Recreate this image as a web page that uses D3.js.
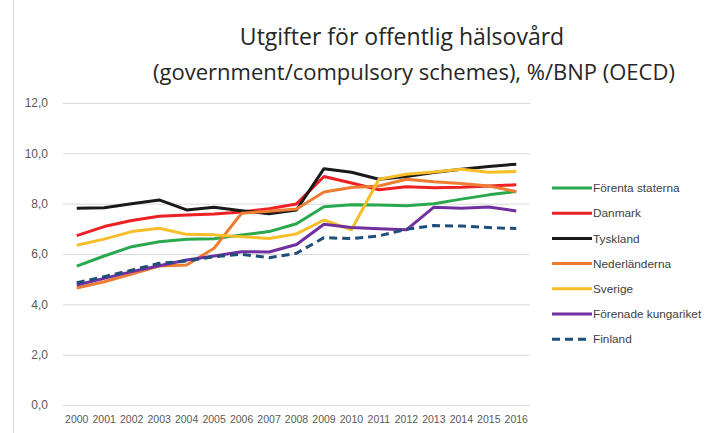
<!DOCTYPE html>
<html>
<head>
<meta charset="utf-8">
<script src="https://cdn.jsdelivr.net/npm/d3@7"></script>
<style>
  body { margin: 0; background: #fff; }
  .y-axis text, .x-axis text { fill: #595959; }
</style>
</head>
<body>
<div id="chart"></div>
<script>
// data
const years = ["2000","2001","2002","2003","2004","2005","2006","2007","2008","2009","2010","2011","2012","2013","2014","2015","2016"];
const yTicks = [0, 2, 4, 6, 8, 10, 12];

const forentaStaterna = [5.52, 5.92, 6.29, 6.49, 6.59, 6.61, 6.76, 6.89, 7.2, 7.88, 7.96, 7.95, 7.92, 8.0, 8.18, 8.35, 8.48];
const danmark = [6.73, 7.09, 7.33, 7.5, 7.55, 7.59, 7.67, 7.8, 7.99, 9.08, 8.82, 8.55, 8.67, 8.63, 8.65, 8.7, 8.75];
const tyskland = [7.82, 7.84, 8.0, 8.15, 7.75, 7.86, 7.72, 7.6, 7.75, 9.39, 9.25, 8.97, 9.08, 9.24, 9.37, 9.48, 9.57];
const nederlanderna = [4.65, 4.9, 5.2, 5.52, 5.56, 6.23, 7.62, 7.7, 7.79, 8.46, 8.64, 8.7, 8.97, 8.87, 8.8, 8.7, 8.48];
const sverige = [6.35, 6.59, 6.89, 7.02, 6.78, 6.76, 6.69, 6.62, 6.8, 7.35, 6.96, 8.97, 9.17, 9.26, 9.37, 9.25, 9.28];
const forenadeKungariket = [4.77, 5.03, 5.3, 5.53, 5.76, 5.92, 6.09, 6.08, 6.38, 7.18, 7.05, 7.0, 6.96, 7.86, 7.82, 7.87, 7.71];
const finland = [4.86, 5.1, 5.36, 5.63, 5.72, 5.89, 5.99, 5.85, 6.03, 6.65, 6.61, 6.72, 6.98, 7.13, 7.11, 7.05, 7.01];

const seriesNames = ["Förenta staterna", "Danmark", "Tyskland", "Nederländerna", "Sverige", "Förenade kungariket", "Finland"];
const seriesValues = [forentaStaterna, danmark, tyskland, nederlanderna, sverige, forenadeKungariket, finland];
const seriesColors = ["#2aa84e", "#ee2024", "#1a1a1a", "#ec7d33", "#f7be2a", "#7030a0", "#1f4e79"];

const series = seriesNames.map((name, i) => ({
  name: name,
  values: seriesValues[i],
  color: seriesColors[i],
  dashed: name === "Finland"
}));

const W = 705, H = 433;
const margin = { top: 103, right: 175, bottom: 28, left: 63 };
const width = W - margin.left - margin.right;
const height = H - margin.top - margin.bottom;

const svg = d3.select("#chart")
  .append("svg")
  .attr("width", W)
  .attr("height", H)
  .style("font-family", "'Liberation Sans', sans-serif");

// chart area border on the left
svg.append("line")
  .attr("x1", 13.5).attr("x2", 13.5)
  .attr("y1", 0).attr("y2", H)
  .attr("stroke", "#d9d9d9");

// title
const title = svg.append("text")
  .attr("text-anchor", "middle")
  .attr("fill", "#262626")
  .style("font-family", "'Open Sans', sans-serif");
title.append("tspan").attr("x", 402).attr("y", 45).style("font-size", "23px")
  .text("Utgifter för offentlig hälsovård");
title.append("tspan").attr("x", 414).attr("y", 80).style("font-size", "22px")
  .text("(government/compulsory schemes), %/BNP (OECD)");

const g = svg.append("g")
  .attr("transform", "translate(" + margin.left + "," + margin.top + ")");

const xScale = d3.scaleBand().domain(years).range([0, width]);
const yScale = d3.scaleLinear().domain([0, 12]).range([height, 0]);

// y axis + gridlines
const yAxis = d3.axisLeft(yScale)
  .tickValues(yTicks)
  .tickSize(-width)
  .tickPadding(15)
  .tickFormat((d) => d3.format(".1f")(d).replace(".", ","));
g.append("g")
  .attr("class", "y-axis")
  .call(yAxis)
  .call((a) => a.select(".domain").remove())
  .call((a) => a.selectAll("line").attr("stroke", "#d9d9d9"))
  .call((a) => a.selectAll("text").style("font-size", "12px"));

// x axis
const xAxis = d3.axisBottom(xScale).tickSize(0).tickPadding(11);
g.append("g")
  .attr("class", "x-axis")
  .attr("transform", "translate(0," + height + ")")
  .call(xAxis)
  .call((a) => a.select(".domain").remove())
  .call((a) => a.selectAll("text").style("font-size", "10.5px"));

// lines
const line = d3.line()
  .x((d, i) => xScale(years[i]) + xScale.bandwidth() / 2)
  .y((d) => yScale(d));

g.selectAll(".series")
  .data(series)
  .enter()
  .append("path")
  .attr("class", "series")
  .attr("d", (d) => line(d.values))
  .attr("fill", "none")
  .attr("stroke", (d) => d.color)
  .attr("stroke-width", 3)
  .attr("stroke-linejoin", "round")
  .attr("stroke-dasharray", (d) => (d.dashed ? "8,5" : null));

// legend
const legend = svg.append("g").attr("transform", "translate(552,188)");
const item = legend.selectAll(".legend-item")
  .data(series)
  .enter()
  .append("g")
  .attr("class", "legend-item")
  .attr("transform", (d, i) => "translate(0," + i * 25.2 + ")");
item.append("line")
  .attr("x1", 0)
  .attr("x2", (d) => (d.dashed ? 34 : 40))
  .attr("stroke", (d) => d.color)
  .attr("stroke-width", 3)
  .attr("stroke-dasharray", (d) => (d.dashed ? "8,5" : null));
item.append("text")
  .attr("x", 41)
  .attr("dy", "0.35em")
  .attr("fill", "#404040")
  .style("font-size", "11.8px")
  .text((d) => d.name);
</script>
</body>
</html>
